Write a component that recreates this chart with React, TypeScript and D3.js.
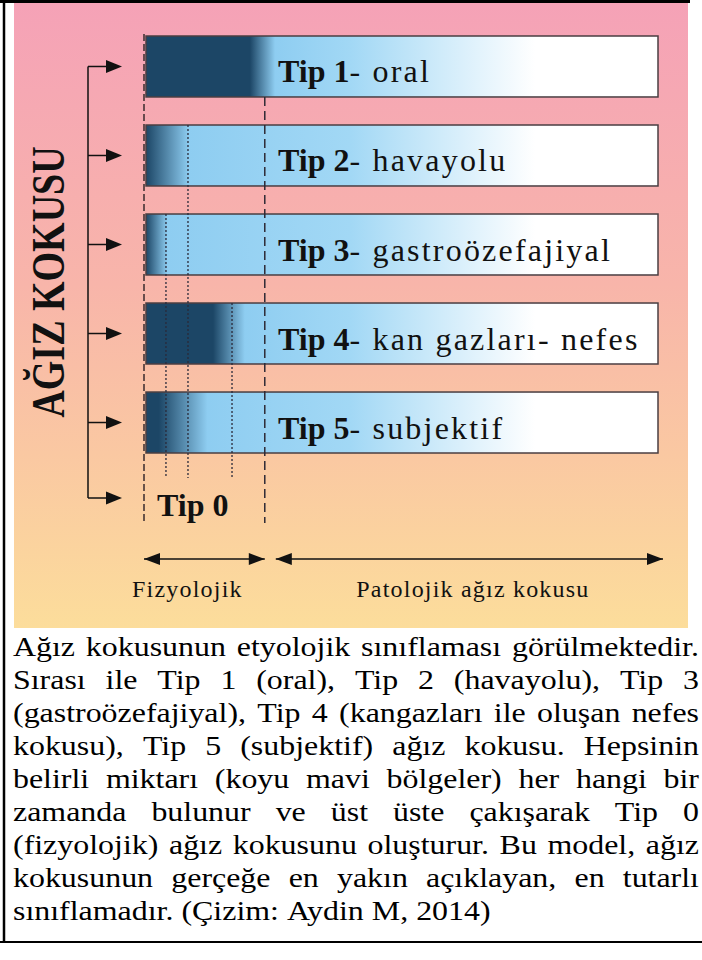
import React from "react";
import * as d3 from "d3";

const TYPES = ["Tip 1", "Tip 2", "Tip 3", "Tip 4", "Tip 5"];
const NAMES = ["oral", "havayolu", "gastroözefajiyal", "kan gazları- nefes", "subjektif"];
// dark (physiological) share of each bar, 0-100 along the bar
const DARK_END = [20.3, 0, 0, 13.1, 2.5];
const FADE_END = [25.2, 8.4, 4.2, 19.3, 12.0];
const DOTTED = [
  { type: "Tip 2", v: 8.2 },
  { type: "Tip 3", v: 3.9 },
  { type: "Tip 4", v: 16.8 },
];
const PHYSIO_END = 23.2;
const ZONES = ["Fizyolojik", "Patolojik ağız kokusu"];
const SIDE_TITLE = "AĞIZ KOKUSU";
const BASE_LABEL = "Tip 0";
const CAPTION = [
  "Ağız kokusunun etyolojik sınıflaması görülmektedir.",
  "Sırası ile Tip 1 (oral), Tip 2 (havayolu), Tip 3",
  "(gastroözefajiyal), Tip 4 (kangazları ile oluşan nefes",
  "kokusu), Tip 5 (subjektif) ağız kokusu. Hepsinin",
  "belirli miktarı (koyu mavi bölgeler) her hangi bir",
  "zamanda bulunur ve üst üste çakışarak Tip 0",
  "(fizyolojik) ağız kokusunu oluşturur. Bu model, ağız",
  "kokusunun gerçeğe en yakın açıklayan, en tutarlı",
  "sınıflamadır. (Çizim: Aydin M, 2014)",
];

const FONT = { fontFamily: '"Liberation Serif"' };
const DARK = "#1c4666";
const INK = "#111";

let ctx: CanvasRenderingContext2D | null = null;
function textWidth(t: string, font: string) {
  if (!ctx) ctx = document.createElement("canvas").getContext("2d");
  ctx!.font = font;
  return ctx!.measureText(t).width;
}

function head(tipX: number, y: number, dir: number, len: number, half: number) {
  return `M${tipX},${y}L${tipX - dir * len},${y - half}L${tipX - dir * len},${y + half}Z`;
}

export default function App() {
  const W = 702;
  const H = 960;
  const x = d3.scaleLinear().domain([0, 100]).range([146, 658]);
  const y = d3.scaleBand<string>().domain(TYPES).range([36, 453]).paddingInner(0.315).paddingOuter(0);
  const bw = y.bandwidth();
  const rowY = (t: string) => (y(t) as number) + bw / 2;
  const baseY = 498;
  const stemX = 88;
  const arrowTip = 122;

  const panel = { x0: 14, x1: 688, y0: 3, y1: 628 };
  const dashBottom = 523;
  const dotBottom = 478;
  const zoneY = 559;

  // caption layout, justified by hand (text is drawn a little wide, like the scan)
  const capSize = 28;
  const capStretch = 1.14;
  const capFont = `${capSize}px "Liberation Serif"`;
  const capLeft = 13;
  const capRight = 699;
  const capTop = 656;
  const capStep = 33;
  const spaceW = textWidth(" ", capFont) * capStretch;
  const capWords = CAPTION.map((line, i) => {
    const words = line.split(" ");
    const widths = words.map((w) => textWidth(w, capFont) * capStretch);
    const total = widths.reduce((a, b) => a + b, 0);
    const last = i === CAPTION.length - 1;
    const gap = last || words.length < 2 ? spaceW : (capRight - capLeft - total) / (words.length - 1);
    let cx = capLeft;
    return words.map((w, k) => {
      const pos = cx;
      cx += widths[k] + gap;
      return { w, x: pos };
    });
  });
  const boxBottom = capTop + (CAPTION.length - 1) * capStep + 22;

  return (
    <svg width={W} height={H} style={{ position: "absolute", left: 0, top: 0 }}>
      <defs>
        <linearGradient id="bg" x1="0" y1="0" x2="0" y2="1">
          <stop offset="0" stopColor="#f5a2b7" />
          <stop offset="0.45" stopColor="#f8b5aa" />
          <stop offset="0.72" stopColor="#fac8a2" />
          <stop offset="1" stopColor="#fcdd9b" />
        </linearGradient>
        {TYPES.map((t, i) => (
          <linearGradient
            key={t}
            id={`bar${i}`}
            gradientUnits="userSpaceOnUse"
            x1={x(0)}
            x2={x(100)}
            y1={0}
            y2={0}
          >
            <stop offset={0} stopColor={DARK} />
            <stop offset={DARK_END[i] / 100} stopColor={DARK} />
            <stop offset={FADE_END[i] / 100} stopColor="#8ecdf1" />
            <stop offset={0.4} stopColor="#a2d8f5" />
            <stop offset={0.76} stopColor="#ffffff" />
            <stop offset={1} stopColor="#ffffff" />
          </linearGradient>
        ))}
      </defs>

      <rect width={W} height={H} fill="#fff" />
      <rect
        x={panel.x0}
        y={panel.y0}
        width={panel.x1 - panel.x0}
        height={panel.y1 - panel.y0}
        fill="url(#bg)"
      />

      {/* frame */}
      <line x1={0} x2={690} y1={1.5} y2={1.5} stroke="#000" strokeWidth={3} />
      <line x1={4} x2={4} y1={0} y2={boxBottom} stroke="#000" strokeWidth={2.5} />
      <line x1={0} x2={W} y1={boxBottom} y2={boxBottom} stroke="#000" strokeWidth={2} />

      {/* side title */}
      <text
        transform={`translate(64,${(rowY("Tip 2") + rowY("Tip 5")) / 2 - 7}) rotate(-90) scale(1,1.2)`}
        textAnchor="middle"
        fontWeight="bold"
        fontSize={38}
        fill={INK}
        style={FONT}
      >
        {SIDE_TITLE}
      </text>

      {/* bracket + arrows */}
      <line x1={stemX} x2={stemX} y1={rowY(TYPES[0])} y2={baseY} stroke={INK} strokeWidth={1.5} />
      {[...TYPES.map(rowY), baseY].map((yy, i) => (
        <g key={i}>
          <line x1={stemX} x2={arrowTip - 10} y1={yy} y2={yy} stroke={INK} strokeWidth={1.5} />
          <path d={head(arrowTip, yy, 1, 16, 6.5)} fill={INK} />
        </g>
      ))}

      {/* bars */}
      {TYPES.map((t, i) => (
        <g key={t}>
          <rect
            x={x(0)}
            y={y(t)}
            width={x(100) - x(0)}
            height={bw}
            fill={`url(#bar${i})`}
            stroke="#4a3e42"
            strokeWidth={1.5}
          />
          <text x={278} y={rowY(t) + 16} fill={INK} style={FONT}>
            <tspan fontWeight="bold" fontSize={32}>
              {t}
            </tspan>
            <tspan fontSize={32} letterSpacing={2.2}>{`- ${NAMES[i]}`}</tspan>
          </text>
        </g>
      ))}

      {/* dashed boundaries */}
      <line
        x1={x(0) - 2}
        x2={x(0) - 2}
        y1={(y(TYPES[0]) as number) - 2}
        y2={dashBottom}
        stroke="#3a2b2e"
        strokeWidth={1.5}
        strokeDasharray="7 3"
      />
      <line
        x1={x(PHYSIO_END)}
        x2={x(PHYSIO_END)}
        y1={(y(TYPES[0]) as number) + bw}
        y2={dashBottom}
        stroke="#2e2a35"
        strokeWidth={1.5}
        strokeDasharray="9 5"
      />
      {DOTTED.map((d) => (
        <line
          key={d.type}
          x1={x(d.v)}
          x2={x(d.v)}
          y1={y(d.type)}
          y2={dotBottom}
          stroke="#2a2a3a"
          strokeWidth={1.3}
          strokeDasharray="2 2"
        />
      ))}

      <text x={157} y={baseY + 18} fontSize={32} fontWeight="bold" fill={INK} style={FONT}>
        {BASE_LABEL}
      </text>

      {/* zone arrows */}
      <line x1={x(0) - 2} x2={x(PHYSIO_END)} y1={zoneY} y2={zoneY} stroke={INK} strokeWidth={1.5} />
      <path d={head(x(0) - 2, zoneY, -1, 16, 6)} fill={INK} />
      <path d={head(x(PHYSIO_END), zoneY, 1, 16, 6)} fill={INK} />
      <line x1={x(PHYSIO_END) + 11} x2={x(100) + 5} y1={zoneY} y2={zoneY} stroke={INK} strokeWidth={1.5} />
      <path d={head(x(PHYSIO_END) + 11, zoneY, -1, 16, 6)} fill={INK} />
      <path d={head(x(100) + 5, zoneY, 1, 16, 6)} fill={INK} />
      <text
        x={(x(0) + x(PHYSIO_END)) / 2 - 18}
        y={597}
        textAnchor="middle"
        fontSize={24}
        letterSpacing={1.2}
        fill={INK}
        style={FONT}
      >
        {ZONES[0]}
      </text>
      <text
        x={(x(PHYSIO_END) + 11 + x(100)) / 2 + 6}
        y={597}
        textAnchor="middle"
        fontSize={24}
        letterSpacing={1.2}
        fill={INK}
        style={FONT}
      >
        {ZONES[1]}
      </text>

      {/* caption */}
      {capWords.map((words, i) =>
        words.map((w, k) => (
          <text
            key={`${i}-${k}`}
            transform={`translate(${w.x},${capTop + i * capStep}) scale(${capStretch},1)`}
            fontSize={capSize}
            fill="#000"
            style={FONT}
          >
            {w.w}
          </text>
        ))
      )}
    </svg>
  );
}
